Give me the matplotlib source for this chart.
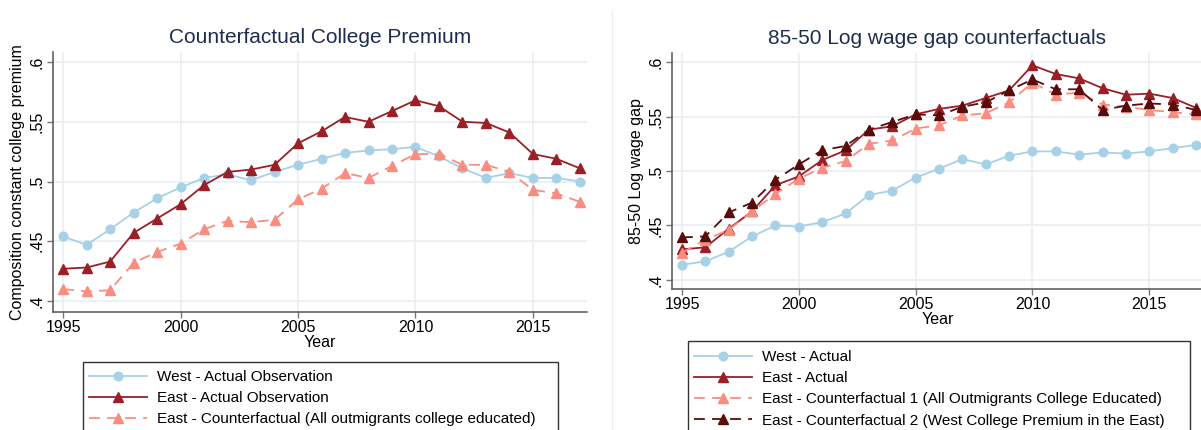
import matplotlib
matplotlib.use("Agg")
import matplotlib.pyplot as plt
from matplotlib.lines import Line2D
from matplotlib.patches import Rectangle

plt.rcParams['font.family'] = ['Liberation Sans', 'DejaVu Sans']

years = list(range(1995, 2018))

# Left panel: composition constant college premium
west_cp = [0.454, 0.447, 0.460, 0.474, 0.486, 0.495, 0.503, 0.506, 0.501, 0.508,
           0.514, 0.519, 0.524, 0.526, 0.527, 0.529, 0.521, 0.511, 0.503, 0.507,
           0.503, 0.503, 0.500]
east_cp = [0.427, 0.428, 0.433, 0.457, 0.469, 0.481, 0.497, 0.508, 0.510, 0.514,
           0.532, 0.542, 0.554, 0.550, 0.559, 0.568, 0.563, 0.550, 0.549, 0.541,
           0.523, 0.519, 0.511]
east_cf_cp = [0.410, 0.408, 0.409, 0.432, 0.441, 0.448, 0.460, 0.467, 0.466, 0.468,
              0.485, 0.494, 0.507, 0.503, 0.513, 0.523, 0.523, 0.514, 0.514, 0.508,
              0.493, 0.490, 0.483]

# Right panel: 85-50 log wage gap
west_gap = [0.414, 0.417, 0.426, 0.440, 0.450, 0.449, 0.453, 0.461, 0.478, 0.482,
            0.494, 0.502, 0.511, 0.506, 0.514, 0.518, 0.518, 0.515, 0.517, 0.516,
            0.518, 0.521, 0.524]
east_gap = [0.428, 0.430, 0.447, 0.463, 0.487, 0.495, 0.510, 0.519, 0.538, 0.541,
            0.552, 0.557, 0.560, 0.567, 0.574, 0.597, 0.589, 0.585, 0.576, 0.570,
            0.571, 0.567, 0.558]
east_cf1_gap = [0.425, 0.437, 0.446, 0.463, 0.479, 0.493, 0.503, 0.509, 0.525, 0.528,
                0.539, 0.542, 0.551, 0.553, 0.563, 0.581, 0.570, 0.572, 0.561, 0.559,
                0.556, 0.554, 0.552]
east_cf2_gap = [0.439, 0.440, 0.462, 0.471, 0.492, 0.506, 0.519, 0.523, 0.538, 0.545,
                0.552, 0.551, 0.559, 0.563, 0.574, 0.584, 0.575, 0.575, 0.556, 0.560,
                0.562, 0.561, 0.556]

xticks = [1995, 2000, 2005, 2010, 2015]
yticks = [0.4, 0.45, 0.5, 0.55, 0.6]
ytick_labels = ['.4', '.45', '.5', '.55', '.6']

C_WEST = '#A6D1E6'
C_EAST = '#9A1F26'
C_CF1 = '#FB8C80'
C_CF2 = '#5A0B0B'
C_TITLE = '#1E2D4F'
GRID = '#E7EFF2'

W, H = 1201, 430
fig = plt.figure(figsize=(W / 100, H / 100), dpi=100)

CIRC = dict(marker='o', ms=6.2)
TRI = dict(marker='^', ms=7.2)


def style_axes(ax, ylabel):
    ax.set_xlim(1994.57, 2017.3)
    ax.set_xticks(xticks)
    ax.set_yticks(yticks)
    ax.set_yticklabels(ytick_labels, rotation=90, va='center')
    ax.grid(True, color=GRID, lw=1.2)
    ax.set_axisbelow(True)
    for s in ['top', 'right']:
        ax.spines[s].set_visible(False)
    for s in ['left', 'bottom']:
        ax.spines[s].set_color('#555555')
        ax.spines[s].set_linewidth(1.1)
    ax.tick_params(axis='both', labelsize=11.5, color='#777777', length=4, width=1, pad=2)
    ax.set_xlabel('Year', fontsize=11.5, labelpad=0)
    ax.set_ylabel(ylabel, fontsize=11.5, labelpad=3)


LEG_KW = dict(loc='upper left', fontsize=11, frameon=False,
              handlelength=3.8, handletextpad=0.65, labelspacing=0.47,
              borderpad=0, borderaxespad=0, markerscale=1.0)


def frame(x0, y0, x1):
    fig.add_artist(Rectangle((x0 / W, 1 - 440 / H), (x1 - x0) / W, (440 - y0) / H,
                             transform=fig.transFigure, fill=False,
                             edgecolor='#333333', lw=1.0))


# Left axes
ax1 = fig.add_axes([53 / W, 1 - 312 / H, 534 / W, 260 / H])
ax1.set_ylim(0.3908, 0.6084)
l1, = ax1.plot(years, west_cp, '-', color=C_WEST, lw=1.3, mec=C_WEST, mfc=C_WEST, **CIRC)
l2, = ax1.plot(years, east_cp, '-', color=C_EAST, lw=1.3, mec=C_EAST, mfc=C_EAST, **TRI)
l3, = ax1.plot(years, east_cf_cp, '--', color=C_CF1, lw=1.3, mec=C_CF1, mfc=C_CF1,
               dashes=(6, 4), **TRI)
style_axes(ax1, 'Composition constant college premium')
ax1.set_title('Counterfactual College Premium', fontsize=15, color=C_TITLE, pad=6.5)

fig.legend([l1, l2, l3],
           ['West - Actual Observation', 'East - Actual Observation',
            'East - Counterfactual (All outmigrants college educated)'],
           bbox_to_anchor=(89 / W, 1 - 370 / H), **LEG_KW)
frame(83, 362, 558)

# Right axes
ax2 = fig.add_axes([672 / W, 1 - 289 / H, 531 / W, 236 / H])
ax2.set_ylim(0.3917, 0.6083)
r1, = ax2.plot(years, west_gap, '-', color=C_WEST, lw=1.3, mec=C_WEST, mfc=C_WEST, **CIRC)
r2, = ax2.plot(years, east_gap, '-', color=C_EAST, lw=1.3, mec=C_EAST, mfc=C_EAST, **TRI)
r3, = ax2.plot(years, east_cf1_gap, '--', color=C_CF1, lw=1.3, mec=C_CF1, mfc=C_CF1,
               dashes=(6, 4), **TRI)
r4, = ax2.plot(years, east_cf2_gap, '--', color=C_CF2, lw=1.3, mec=C_CF2, mfc=C_CF2,
               dashes=(6, 4), **TRI)
style_axes(ax2, '85-50 Log wage gap')
ax2.set_title('85-50 Log wage gap counterfactuals', fontsize=15, color=C_TITLE, pad=6.5)

fig.legend([r1, r2, r3, r4],
           ['West - Actual', 'East - Actual',
            'East - Counterfactual 1 (All Outmigrants College Educated)',
            'East - Counterfactual 2 (West College Premium in the East)'],
           bbox_to_anchor=(694 / W, 1 - 350 / H), **LEG_KW)
frame(688, 341, 1190)

# separator between panels
fig.add_artist(Line2D([612 / W, 612 / W], [0, 1 - 11 / H], color='#EEEEEE', lw=1.0))

fig.savefig('out.png', dpi=100, facecolor='white')
